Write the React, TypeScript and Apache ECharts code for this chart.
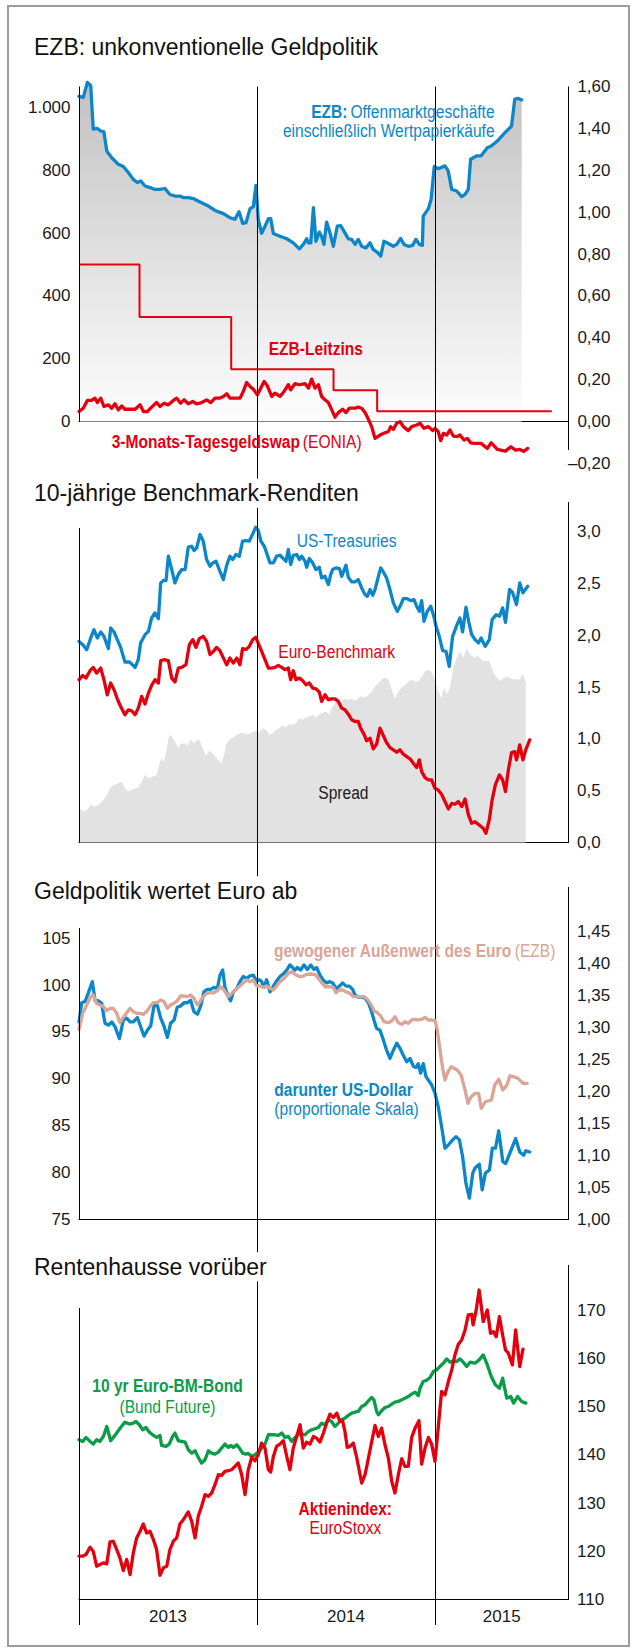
import React, { useEffect, useRef } from "react";
import * as echarts from "echarts";

// ---------- time axis: years since 1 Jan 2013 ----------
const X_MIN = 0;
const X_MAX = 2.75;
const yearBoundaries = [1, 2];
const yearTicks = [0, 1, 2];
const yearLabelPos = [0.5, 1.5, 2.375];
const firstYear = 2013;

// ---------- Panel 1: EZB ----------
const ezbOperations: [number, number][] = [
  [0,1035],[.024,1032],[.047,1080],[.066,1069],[.080,931],[.103,933],[.122,925],[.140,922],[.156,861],[.184,840],[.221,819],[.249,812],[.277,793],[.305,771],[.328,761],[.347,766],[.371,750],[.399,745],[.427,739],[.455,739],[.483,742],[.511,723],[.539,718],[.567,718],[.586,713],[.614,713],[.642,710],[.680,699],[.727,686],[.764,672],[.811,662],[.848,649],[.876,644],[.899,668],[.920,631],[.938,633],[.961,678],[.979,684],[.994,752],[1.007,644],[1.026,599],[1.045,622],[1.064,646],[1.077,646],[1.092,599],[1.129,590],[1.167,582],[1.204,569],[1.238,550],[1.260,564],[1.279,582],[1.289,569],[1.302,569],[1.317,681],[1.331,574],[1.350,603],[1.363,590],[1.376,564],[1.391,635],[1.410,601],[1.429,558],[1.451,622],[1.470,624],[1.494,601],[1.513,582],[1.532,580],[1.551,564],[1.569,580],[1.588,558],[1.612,553],[1.635,569],[1.653,548],[1.676,539],[1.695,527],[1.713,574],[1.738,567],[1.766,558],[1.785,564],[1.807,583],[1.826,564],[1.850,558],[1.874,561],[1.893,580],[1.912,564],[1.929,561],[1.934,654],[1.963,678],[1.978,707],[1.996,812],[2.018,805],[2.056,814],[2.074,798],[2.094,739],[2.122,734],[2.150,716],[2.169,723],[2.187,739],[2.200,835],[2.236,846],[2.259,846],[2.294,872],[2.316,877],[2.350,893],[2.385,915],[2.430,941],[2.448,1026],[2.464,1029],[2.487,1024]
];
const eoniaSwap: [number, number][] = [
  [0,.048],[.024,.064],[.047,.101],[.071,.101],[.090,.112],[.103,.091],[.122,.112],[.140,.072],[.165,.080],[.184,.064],[.202,.085],[.221,.056],[.240,.075],[.258,.059],[.287,.059],[.315,.059],[.343,.080],[.362,.048],[.384,.048],[.408,.069],[.436,.091],[.455,.072],[.478,.088],[.502,.080],[.530,.101],[.549,.112],[.571,.088],[.590,.104],[.614,.085],[.639,.096],[.661,.085],[.689,.091],[.717,.104],[.740,.091],[.764,.112],[.789,.112],[.811,.120],[.830,.133],[.848,.112],[.876,.112],[.905,.112],[.923,.144],[.942,.187],[.964,.165],[.979,.155],[1.002,.128],[1.017,.152],[1.040,.192],[1.058,.171],[1.083,.120],[1.101,.136],[1.129,.120],[1.152,.144],[1.176,.176],[1.189,.152],[1.213,.181],[1.238,.176],[1.270,.181],[1.289,.160],[1.307,.203],[1.326,.160],[1.345,.176],[1.363,.120],[1.382,.104],[1.401,.091],[1.420,.056],[1.438,.021],[1.457,.043],[1.481,.059],[1.500,.043],[1.519,.064],[1.551,.064],[1.569,.069],[1.588,.064],[1.607,.043],[1.626,.011],[1.644,-.024],[1.663,-.080],[1.691,-.064],[1.719,-.053],[1.738,-.048],[1.751,-.024],[1.766,-.037],[1.785,-.008],[1.804,.000],[1.822,-.024],[1.850,-.043],[1.869,-.024],[1.897,-.016],[1.916,-.008],[1.938,-.032],[1.963,-.024],[1.987,-.043],[2.000,-.032],[2.018,-.048],[2.032,-.091],[2.047,-.056],[2.066,-.064],[2.084,-.040],[2.103,-.069],[2.125,-.072],[2.140,-.064],[2.163,-.088],[2.182,-.080],[2.200,-.101],[2.225,-.104],[2.259,-.104],[2.294,-.128],[2.316,-.101],[2.350,-.133],[2.396,-.141],[2.426,-.120],[2.453,-.136],[2.476,-.133],[2.498,-.142],[2.521,-.128]
];
const rateChangeDates = [0, 0.34, 0.855, 1.43, 1.675];
const rateLevels = [0.75, 0.5, 0.25, 0.15, 0.05];
const rateEnd = 2.656;
const p1LeftTicks = [0, 200, 400, 600, 800, 1000];

// ---------- Panel 2: 10-year yields ----------
const usTreasuries: [number, number][] = [
  [0,1.940],[.024,1.902],[.043,1.860],[.066,1.973],[.084,2.053],[.103,1.973],[.122,2.031],[.140,1.989],[.165,1.870],[.178,2.069],[.197,2.031],[.215,1.957],[.234,1.882],[.258,1.741],[.283,1.741],[.296,1.721],[.315,1.689],[.333,1.763],[.346,1.924],[.371,2.005],[.390,2.037],[.408,2.166],[.427,2.214],[.446,2.159],[.459,2.504],[.474,2.527],[.489,2.527],[.502,2.762],[.521,2.633],[.539,2.504],[.558,2.585],[.577,2.633],[.596,2.633],[.614,2.849],[.633,2.858],[.646,2.816],[.661,2.842],[.680,2.971],[.698,2.907],[.717,2.729],[.736,2.665],[.751,2.697],[.770,2.713],[.788,2.633],[.811,2.536],[.830,2.675],[.848,2.762],[.863,2.729],[.882,2.778],[.901,2.762],[.919,2.907],[.938,2.913],[.957,2.907],[.976,2.977],[.993,3.042],[1.007,3.010],[1.022,2.907],[1.041,2.858],[1.054,2.794],[1.073,2.697],[1.092,2.697],[1.110,2.762],[1.129,2.771],[1.148,2.739],[1.163,2.713],[1.176,2.826],[1.189,2.681],[1.204,2.771],[1.223,2.778],[1.238,2.729],[1.251,2.762],[1.270,2.713],[1.279,2.655],[1.294,2.739],[1.313,2.697],[1.331,2.633],[1.350,2.655],[1.363,2.552],[1.382,2.568],[1.401,2.488],[1.414,2.585],[1.425,2.633],[1.444,2.649],[1.463,2.643],[1.476,2.568],[1.500,2.675],[1.513,2.559],[1.532,2.514],[1.551,2.514],[1.569,2.536],[1.588,2.456],[1.607,2.391],[1.620,2.375],[1.635,2.440],[1.650,2.385],[1.663,2.440],[1.682,2.568],[1.695,2.649],[1.710,2.610],[1.728,2.552],[1.747,2.440],[1.766,2.311],[1.788,2.230],[1.807,2.288],[1.822,2.353],[1.841,2.353],[1.863,2.333],[1.882,2.343],[1.897,2.279],[1.912,2.230],[1.925,2.333],[1.938,2.134],[1.957,2.230],[1.976,2.279],[1.991,2.198],[2.006,2.085],[2.024,1.989],[2.043,1.850],[2.062,1.844],[2.080,1.699],[2.099,1.989],[2.122,2.095],[2.140,2.166],[2.155,2.031],[2.174,2.269],[2.189,2.134],[2.206,2.005],[2.225,1.957],[2.244,1.925],[2.259,1.973],[2.282,1.892],[2.305,1.957],[2.321,2.150],[2.344,2.198],[2.362,2.182],[2.380,2.263],[2.396,2.124],[2.419,2.440],[2.435,2.414],[2.458,2.295],[2.476,2.504],[2.494,2.408],[2.521,2.472]
];
const euroBenchmark: [number, number][] = [
  [0,1.570],[.021,1.612],[.039,1.586],[.062,1.657],[.080,1.689],[.099,1.634],[.122,1.683],[.140,1.570],[.159,1.425],[.178,1.538],[.197,1.473],[.215,1.386],[.234,1.312],[.258,1.232],[.277,1.280],[.296,1.271],[.315,1.232],[.333,1.296],[.352,1.409],[.371,1.335],[.390,1.441],[.408,1.515],[.427,1.570],[.446,1.538],[.459,1.754],[.478,1.763],[.502,1.754],[.521,1.586],[.539,1.548],[.558,1.683],[.577,1.689],[.601,1.715],[.620,1.908],[.639,1.957],[.657,1.882],[.676,1.966],[.698,1.989],[.717,1.940],[.736,1.812],[.755,1.844],[.773,1.882],[.792,1.850],[.811,1.779],[.830,1.715],[.848,1.779],[.867,1.731],[.886,1.779],[.904,1.715],[.919,1.870],[.938,1.860],[.957,1.892],[.976,1.957],[.993,1.979],[1.007,1.924],[1.026,1.844],[1.045,1.763],[1.064,1.683],[1.082,1.683],[1.101,1.689],[1.120,1.708],[1.139,1.689],[1.157,1.667],[1.176,1.683],[1.189,1.570],[1.204,1.657],[1.219,1.570],[1.238,1.586],[1.257,1.560],[1.275,1.522],[1.294,1.538],[1.313,1.490],[1.331,1.483],[1.350,1.451],[1.363,1.361],[1.382,1.425],[1.401,1.377],[1.419,1.386],[1.438,1.386],[1.457,1.361],[1.476,1.296],[1.494,1.280],[1.513,1.238],[1.532,1.184],[1.551,1.167],[1.569,1.167],[1.582,1.103],[1.601,1.045],[1.616,0.981],[1.635,1.006],[1.653,0.903],[1.672,0.949],[1.691,1.103],[1.706,1.045],[1.725,0.974],[1.747,0.916],[1.766,0.894],[1.785,0.871],[1.803,0.894],[1.822,0.852],[1.841,0.829],[1.860,0.807],[1.878,0.765],[1.897,0.723],[1.912,0.797],[1.925,0.684],[1.944,0.626],[1.963,0.604],[1.981,0.604],[2.000,0.523],[2.018,0.507],[2.037,0.465],[2.056,0.395],[2.075,0.324],[2.094,0.378],[2.112,0.369],[2.131,0.395],[2.150,0.346],[2.169,0.420],[2.187,0.272],[2.206,0.185],[2.225,0.201],[2.248,0.169],[2.271,0.137],[2.286,0.089],[2.305,0.217],[2.321,0.411],[2.339,0.556],[2.362,0.652],[2.380,0.604],[2.396,0.491],[2.412,0.700],[2.430,0.868],[2.448,0.877],[2.458,0.797],[2.476,0.942],[2.494,0.797],[2.510,0.894],[2.532,0.990]
];
const yieldSpread: [number, number][] = [
  [0,.330],[.024,.298],[.043,.314],[.066,.362],[.084,.346],[.109,.362],[.137,.411],[.156,.459],[.174,.523],[.193,.549],[.221,.572],[.240,.588],[.258,.523],[.277,.491],[.296,.507],[.315,.523],[.333,.530],[.352,.588],[.371,.652],[.390,.620],[.414,.636],[.436,.652],[.455,.781],[.464,.813],[.478,.781],[.493,.910],[.507,1.039],[.521,1.023],[.539,.974],[.558,.910],[.571,.949],[.590,.958],[.609,.936],[.627,.990],[.646,.958],[.665,.990],[.680,.981],[.695,.910],[.713,.839],[.732,.884],[.751,.862],[.770,.820],[.788,.787],[.801,.765],[.815,.845],[.826,.942],[.845,.990],[.867,1.013],[.886,1.039],[.904,1.055],[.927,1.055],[.951,1.045],[.976,1.064],[.994,1.077],[1.013,1.064],[1.032,1.103],[1.051,1.087],[1.069,1.039],[1.088,1.055],[1.107,1.087],[1.125,1.103],[1.144,1.129],[1.163,1.109],[1.182,1.142],[1.200,1.135],[1.219,1.151],[1.238,1.200],[1.257,1.184],[1.275,1.206],[1.294,1.216],[1.313,1.232],[1.331,1.206],[1.350,1.238],[1.369,1.248],[1.388,1.264],[1.406,1.232],[1.419,1.296],[1.438,1.345],[1.457,1.345],[1.476,1.367],[1.494,1.386],[1.513,1.377],[1.532,1.386],[1.551,1.367],[1.569,1.393],[1.588,1.409],[1.607,1.399],[1.626,1.425],[1.644,1.457],[1.663,1.506],[1.682,1.538],[1.700,1.570],[1.719,1.593],[1.738,1.570],[1.757,1.473],[1.775,1.386],[1.794,1.457],[1.813,1.496],[1.831,1.515],[1.850,1.554],[1.869,1.570],[1.888,1.548],[1.906,1.554],[1.925,1.593],[1.944,1.651],[1.963,1.667],[1.981,1.644],[2.000,1.570],[2.018,1.457],[2.037,1.393],[2.051,1.490],[2.066,1.432],[2.084,1.490],[2.103,1.683],[2.122,1.779],[2.140,1.844],[2.159,1.779],[2.178,1.870],[2.197,1.812],[2.225,1.779],[2.236,1.80],[2.271,1.75],[2.305,1.75],[2.333,1.62],[2.362,1.56],[2.403,1.60],[2.430,1.58],[2.473,1.57],[2.494,1.63],[2.510,1.54]
];

// ---------- Panel 3: euro exchange rate ----------
const euroTradeWeighted: [number, number][] = [
  [0,95.28],[.021,96.99],[.043,97.88],[.066,98.77],[.080,98.95],[.099,98.06],[.118,97.88],[.137,97.70],[.156,97.27],[.174,97.52],[.193,97.52],[.212,96.99],[.230,95.99],[.249,96.56],[.268,97.06],[.287,97.52],[.305,97.17],[.324,96.99],[.343,96.99],[.361,96.88],[.380,97.17],[.399,97.70],[.418,98.13],[.440,98.13],[.459,98.41],[.478,98.23],[.496,97.52],[.515,97.88],[.534,98.06],[.552,98.34],[.571,98.84],[.590,98.84],[.609,98.77],[.627,98.95],[.646,98.59],[.665,97.88],[.680,98.23],[.698,98.77],[.717,99.12],[.740,99.19],[.758,99.19],[.777,99.41],[.796,99.83],[.815,99.48],[.839,98.77],[.858,99.12],[.882,99.55],[.904,99.91],[.923,100.26],[.942,100.55],[.961,100.37],[.979,100.55],[.998,99.91],[1.017,99.91],[1.036,99.76],[1.054,99.91],[1.073,99.66],[1.092,99.48],[1.110,99.91],[1.129,100.37],[1.152,100.73],[1.176,101.26],[1.195,101.44],[1.219,101.08],[1.242,100.90],[1.260,100.97],[1.279,101.15],[1.302,101.19],[1.326,101.15],[1.345,100.73],[1.363,100.26],[1.382,99.83],[1.406,99.83],[1.429,99.76],[1.444,99.19],[1.463,99.48],[1.481,99.48],[1.500,99.30],[1.522,99.12],[1.541,98.77],[1.560,98.77],[1.579,98.77],[1.601,98.77],[1.620,98.48],[1.639,97.99],[1.657,97.27],[1.676,97.06],[1.695,96.70],[1.713,96.10],[1.738,95.99],[1.757,96.17],[1.775,96.63],[1.794,95.99],[1.813,95.81],[1.831,96.10],[1.850,95.92],[1.869,96.28],[1.888,96.35],[1.906,96.28],[1.925,96.35],[1.944,96.56],[1.963,96.28],[1.981,96.28],[2.000,96.21],[2.013,95.21],[2.028,93.07],[2.043,91.12],[2.056,89.87],[2.073,90.76],[2.091,91.29],[2.124,90.94],[2.147,90.41],[2.169,88.80],[2.185,87.38],[2.203,88.09],[2.226,88.45],[2.245,88.45],[2.260,86.85],[2.283,87.55],[2.317,87.74],[2.336,89.34],[2.358,89.95],[2.381,88.80],[2.404,89.34],[2.420,90.30],[2.442,90.22],[2.465,90.05],[2.495,89.52],[2.518,89.52]
];
const euroUsDollar: [number, number][] = [
  [0,1.308],[.015,1.338],[.034,1.340],[.052,1.353],[.075,1.371],[.090,1.342],[.109,1.341],[.127,1.337],[.146,1.306],[.165,1.303],[.184,1.308],[.202,1.301],[.227,1.282],[.249,1.311],[.268,1.314],[.287,1.308],[.305,1.308],[.328,1.315],[.346,1.301],[.365,1.286],[.384,1.295],[.403,1.302],[.421,1.333],[.440,1.334],[.459,1.314],[.478,1.301],[.496,1.284],[.515,1.306],[.534,1.311],[.552,1.331],[.571,1.333],[.590,1.338],[.609,1.338],[.627,1.342],[.646,1.324],[.665,1.320],[.684,1.333],[.702,1.355],[.721,1.359],[.740,1.359],[.758,1.362],[.777,1.360],[.792,1.381],[.807,1.389],[.820,1.362],[.839,1.347],[.852,1.341],[.867,1.355],[.886,1.360],[.904,1.371],[.923,1.379],[.942,1.376],[.961,1.380],[.979,1.381],[.998,1.372],[1.013,1.374],[1.026,1.371],[1.039,1.362],[1.054,1.374],[1.073,1.355],[1.092,1.364],[1.110,1.372],[1.129,1.379],[1.148,1.383],[1.167,1.389],[1.185,1.397],[1.200,1.393],[1.213,1.389],[1.227,1.393],[1.245,1.389],[1.264,1.397],[1.283,1.390],[1.302,1.397],[1.320,1.390],[1.335,1.393],[1.354,1.381],[1.373,1.373],[1.391,1.369],[1.410,1.371],[1.425,1.369],[1.444,1.360],[1.463,1.364],[1.481,1.369],[1.500,1.364],[1.519,1.364],[1.537,1.359],[1.551,1.350],[1.569,1.347],[1.588,1.347],[1.607,1.345],[1.626,1.338],[1.644,1.324],[1.657,1.311],[1.672,1.298],[1.691,1.295],[1.710,1.280],[1.728,1.264],[1.747,1.251],[1.766,1.264],[1.785,1.275],[1.803,1.267],[1.822,1.256],[1.841,1.246],[1.860,1.251],[1.878,1.239],[1.893,1.237],[1.906,1.243],[1.919,1.228],[1.934,1.243],[1.949,1.223],[1.963,1.217],[1.981,1.210],[2.000,1.197],[2.018,1.176],[2.037,1.145],[2.056,1.111],[2.075,1.116],[2.099,1.124],[2.118,1.129],[2.137,1.124],[2.155,1.098],[2.174,1.056],[2.193,1.033],[2.212,1.072],[2.225,1.080],[2.249,1.086],[2.265,1.046],[2.283,1.072],[2.306,1.077],[2.322,1.111],[2.340,1.111],[2.358,1.138],[2.381,1.090],[2.397,1.087],[2.420,1.103],[2.453,1.126],[2.476,1.105],[2.498,1.100],[2.510,1.107],[2.532,1.105]
];
const p3LeftTicks = [75, 80, 85, 90, 95, 100, 105];

// ---------- Panel 4: bonds vs stocks ----------
const bundFuture: [number, number][] = [
  [0,143.11],[.021,142.76],[.039,143.59],[.062,142.76],[.080,142.21],[.099,143.11],[.118,142.76],[.137,143.80],[.156,145.86],[.178,142.90],[.197,143.80],[.215,144.69],[.234,145.66],[.258,146.76],[.283,146.35],[.305,146.55],[.320,146.90],[.339,146.21],[.358,145.17],[.376,145.66],[.395,144.69],[.414,144.14],[.436,143.59],[.455,144.00],[.464,141.93],[.489,141.73],[.507,142.21],[.526,143.80],[.539,144.49],[.558,142.90],[.577,142.76],[.596,142.62],[.614,141.04],[.633,140.35],[.652,140.83],[.670,139.45],[.689,138.28],[.708,138.97],[.727,140.83],[.745,140.35],[.764,140.14],[.783,140.55],[.801,141.38],[.820,142.21],[.839,141.52],[.852,141.93],[.867,141.52],[.886,142.07],[.904,141.24],[.919,140.35],[.938,140.14],[.951,140.28],[.970,139.66],[.989,140.00],[1.007,140.55],[1.026,141.38],[1.045,142.21],[1.064,144.14],[1.082,144.14],[1.101,144.14],[1.120,144.00],[1.139,144.49],[1.157,143.59],[1.176,143.80],[1.195,142.76],[1.213,143.59],[1.232,144.14],[1.251,144.28],[1.270,144.14],[1.289,144.83],[1.307,145.17],[1.326,145.38],[1.345,145.66],[1.363,146.55],[1.382,146.21],[1.401,147.24],[1.419,146.90],[1.438,145.86],[1.457,146.55],[1.476,147.24],[1.494,147.59],[1.513,148.14],[1.532,148.62],[1.551,148.83],[1.569,148.97],[1.588,150.00],[1.607,150.35],[1.626,151.18],[1.644,151.86],[1.657,151.38],[1.672,148.97],[1.682,148.28],[1.700,149.11],[1.719,149.80],[1.738,150.00],[1.757,150.49],[1.775,150.90],[1.794,151.04],[1.813,151.38],[1.831,151.73],[1.850,152.07],[1.869,152.56],[1.888,152.97],[1.906,152.28],[1.916,153.80],[1.934,155.17],[1.953,155.45],[1.972,156.00],[1.991,157.24],[2.009,157.59],[2.028,158.28],[2.047,158.97],[2.066,159.87],[2.084,159.18],[2.103,159.45],[2.122,159.31],[2.140,159.87],[2.159,159.18],[2.178,158.28],[2.197,159.18],[2.225,158.97],[2.248,159.66],[2.271,160.69],[2.294,158.62],[2.316,156.20],[2.339,154.49],[2.362,153.80],[2.380,155.87],[2.403,151.73],[2.426,152.07],[2.441,150.70],[2.464,152.07],[2.487,151.03],[2.510,150.70]
];
const euroStoxx: [number, number][] = [
  [0,118.97],[.021,118.97],[.039,119.31],[.062,120.83],[.080,120.00],[.099,116.90],[.118,117.24],[.137,117.59],[.156,117.38],[.174,121.93],[.193,122.07],[.212,120.35],[.230,118.62],[.249,116.00],[.268,118.28],[.287,115.17],[.305,119.66],[.324,122.76],[.343,124.14],[.361,125.66],[.380,123.79],[.399,124.14],[.418,122.41],[.436,120.35],[.455,115.03],[.474,116.55],[.493,116.90],[.511,120.35],[.530,122.07],[.549,122.76],[.567,125.66],[.590,126.76],[.614,128.14],[.633,126.21],[.652,122.76],[.670,127.24],[.689,129.31],[.708,131.73],[.727,131.38],[.745,132.07],[.764,133.79],[.783,135.86],[.801,135.73],[.820,136.55],[.839,136.69],[.858,136.90],[.876,137.59],[.895,138.28],[.914,135.86],[.933,131.73],[.951,136.90],[.970,139.45],[.989,138.76],[1.007,140.00],[1.026,142.42],[1.045,141.38],[1.064,136.90],[1.077,136.42],[1.092,139.66],[1.110,141.73],[1.129,142.21],[1.148,142.90],[1.167,139.66],[1.185,136.90],[1.204,141.38],[1.223,143.80],[1.242,146.21],[1.260,141.38],[1.279,142.62],[1.298,142.21],[1.317,143.80],[1.335,143.45],[1.354,142.62],[1.373,144.49],[1.391,146.55],[1.410,148.42],[1.429,147.73],[1.448,148.62],[1.466,146.90],[1.481,147.04],[1.494,144.83],[1.507,141.52],[1.522,141.73],[1.541,142.42],[1.560,139.45],[1.588,134.14],[1.607,135.86],[1.626,139.31],[1.644,142.62],[1.663,146.07],[1.682,143.80],[1.700,145.52],[1.719,142.07],[1.738,139.31],[1.757,134.48],[1.775,132.07],[1.794,135.86],[1.813,139.17],[1.831,137.59],[1.850,137.59],[1.869,143.59],[1.888,145.52],[1.910,147.04],[1.925,138.07],[1.944,141.38],[1.963,143.59],[1.981,142.21],[2.000,138.62],[2.018,145.52],[2.037,153.11],[2.056,152.42],[2.075,155.17],[2.094,157.59],[2.112,160.69],[2.131,162.90],[2.150,163.80],[2.169,165.87],[2.187,168.97],[2.206,169.11],[2.214,166.90],[2.230,169.65],[2.248,174.14],[2.271,167.58],[2.294,170.00],[2.312,165.18],[2.328,165.51],[2.344,164.48],[2.362,168.62],[2.380,164.83],[2.396,161.73],[2.412,161.05],[2.435,158.62],[2.453,165.87],[2.476,158.27],[2.494,161.87]
];

// ---------- styling ----------
const BLUE = "#0b87c9";
const RED = "#e3000f";
const SALMON = "#d9a596";
const GREEN = "#0a9c47";
const INK = "#1a1a1a";
const SANS = '"Liberation Sans", Arial, sans-serif';
const CONDENSE = 0.82; // horizontal squeeze for condensed annotation type

// layout (px)
const L = 79;
const R = 568.5;
const GW = R - L;
const P1 = { top: 86.5, bottom: 463.5 };
const P2 = { top: 531.5, bottom: 842.5 };
const P3 = { top: 931, bottom: 1219.3 };
const P4 = { top: 1310, bottom: 1599.5 };
const BG = { top: 86.5, bottom: 1625 };

const comma = (v: number, d: number) =>
  (v < 0 ? "–" : "") + Math.abs(v).toFixed(d).replace(".", ",");

function App() {
  const ref = useRef<HTMLDivElement>(null);
  useEffect(() => {
    if (!ref.current) return;
    const chart = echarts.init(ref.current, undefined, { renderer: "svg" });

    const grid = (p: { top: number; bottom: number }) => ({
      left: L, top: p.top, width: GW, height: p.bottom - p.top, outerBoundsMode: "none",
    });
    const hiddenX = (gridIndex: number, extra: any = {}) => ({
      type: "value", gridIndex, min: X_MIN, max: X_MAX,
      axisLine: { show: true, onZero: true, lineStyle: { color: "#000", width: 1 } },
      axisTick: { show: false }, axisLabel: { show: false }, splitLine: { show: false },
      ...extra,
    });
    const labelStyle = { color: INK, fontSize: 17, fontFamily: SANS };

    const line = (data: [number, number][], xi: number, yi: number, color: string, z = 3, extra: any = {}) => ({
      type: "line", xAxisIndex: xi, yAxisIndex: yi, data, showSymbol: false, symbol: "none",
      clip: false, z, silent: true,
      lineStyle: { color, width: 3.3, join: "round", cap: "round" },
      ...extra,
    });

    const rateSteps: [number, number][] = rateChangeDates
      .map((d, i) => [d, rateLevels[i]] as [number, number])
      .concat([[rateEnd, rateLevels[rateLevels.length - 1]]]);

    const text = (x: number, y: number, t: string, align: string, rich: any) => ({
      type: "text", x, y, z: 50, silent: true, scaleX: CONDENSE, scaleY: 1,
      style: { text: t, align, verticalAlign: "middle", rich },
    });
    const rich = (color: string) => ({
      b: { fontFamily: SANS, fontSize: 19, fontWeight: "bold", fill: color },
      n: { fontFamily: SANS, fontSize: 19, fontWeight: "normal", fill: color },
    });
    const title = (y: number, t: string) => ({
      type: "text", x: 32, y, z: 100, silent: true,
      style: {
        text: t, fill: "#111", fontFamily: SANS, fontSize: 23, align: "left", verticalAlign: "middle",
        backgroundColor: "#fff", padding: [3, 4, 3, 2],
      },
    });
    const vline = (x: number, y1: number, y2: number) => ({
      type: "line", z: 60, silent: true,
      shape: { x1: x, y1, x2: x, y2 }, style: { stroke: "#000", lineWidth: 1 },
    });

    chart.setOption({
      animation: false,
      backgroundColor: "#fff",
      grid: [grid(P1), grid(P2), grid(P3), grid(P4), grid(BG)],
      xAxis: [
        hiddenX(0),
        hiddenX(1),
        hiddenX(2),
        hiddenX(3, {
          axisTick: { show: true, customValues: yearTicks, length: 25.5, inside: false, lineStyle: { color: "#000", width: 1 } },
          axisLabel: {
            show: true, customValues: yearLabelPos, margin: 8, ...labelStyle,
            formatter: (v: number) => String(firstYear + Math.floor(v)),
          },
        }),
        { type: "value", gridIndex: 4, min: X_MIN, max: X_MAX, show: false },
      ],
      yAxis: [
        {
          type: "value", gridIndex: 0, position: "left", min: -133.333, max: 1066.667,
          axisLine: { show: false }, axisTick: { show: false }, splitLine: { show: false },
          axisLabel: {
            customValues: p1LeftTicks, margin: 8.5, ...labelStyle,
            formatter: (v: number) => (v >= 1000 ? Math.floor(v / 1000) + "." + String(v % 1000).padStart(3, "0") : String(v)),
          },
        },
        {
          type: "value", gridIndex: 0, position: "right", min: -0.2, max: 1.6, interval: 0.2,
          axisLine: { show: false }, axisTick: { show: false }, splitLine: { show: false },
          axisLabel: { margin: 42, align: "right", ...labelStyle, formatter: (v: number) => comma(v, 2) },
        },
        {
          type: "value", gridIndex: 1, position: "right", min: 0, max: 3, interval: 0.5,
          axisLine: { show: false }, axisTick: { show: false }, splitLine: { show: false },
          axisLabel: { margin: 8.5, ...labelStyle, formatter: (v: number) => comma(v, 1) },
        },
        {
          type: "value", gridIndex: 2, position: "left", min: 75, max: 105.78,
          axisLine: { show: false }, axisTick: { show: false }, splitLine: { show: false },
          axisLabel: { customValues: p3LeftTicks, margin: 8.5, ...labelStyle },
        },
        {
          type: "value", gridIndex: 2, position: "right", min: 1, max: 1.45, interval: 0.05,
          axisLine: { show: false }, axisTick: { show: false }, splitLine: { show: false },
          axisLabel: { margin: 8.5, ...labelStyle, formatter: (v: number) => comma(v, 2) },
        },
        {
          type: "value", gridIndex: 3, position: "right", min: 110, max: 170, interval: 10,
          axisLine: { show: false }, axisTick: { show: false }, splitLine: { show: false },
          axisLabel: { margin: 8.5, ...labelStyle },
        },
        { type: "value", gridIndex: 4, min: 0, max: 1, show: false },
      ],
      series: [
        {
          type: "line", xAxisIndex: 4, yAxisIndex: 6, data: [], z: 2, silent: true,
          markLine: {
            silent: true, symbol: ["none", "none"], label: { show: false },
            lineStyle: { color: "#000", width: 1, type: "solid" },
            emphasis: { disabled: true },
            data: yearBoundaries.map((v) => ({ xAxis: v })),
          },
        },
        // Panel 1
        line(ezbOperations, 0, 0, "#c8c8c8", 1, {
          lineStyle: { width: 0, color: "#c8c8c8" },
          areaStyle: {
            opacity: 1,
            color: new echarts.graphic.LinearGradient(0, 0, 0, 1, [
              { offset: 0, color: "#c2c2c2" },
              { offset: 1, color: "#fdfdfd" },
            ]),
          },
        }),
        line(rateSteps, 0, 1, RED, 3, { step: "end", lineStyle: { color: RED, width: 2 } }),
        line(eoniaSwap, 0, 1, RED, 4),
        line(ezbOperations, 0, 0, BLUE, 4),
        // Panel 2
        line(yieldSpread, 1, 2, "#e2e2e2", 1, {
          lineStyle: { width: 0, color: "#e2e2e2" },
          areaStyle: { color: "#e2e2e2", opacity: 1 },
        }),
        line(usTreasuries, 1, 2, BLUE, 4),
        line(euroBenchmark, 1, 2, RED, 4),
        // Panel 3
        line(euroUsDollar, 2, 4, BLUE, 4),
        line(euroTradeWeighted, 2, 3, SALMON, 5),
        // Panel 4
        line(bundFuture, 3, 5, GREEN, 4),
        line(euroStoxx, 3, 5, RED, 5),
      ],
      graphic: [
        {
          type: "rect", z: 0, silent: true,
          shape: { x: 8, y: 6, width: 621, height: 1640 },
          style: { fill: "none", stroke: "#9c9c9c", lineWidth: 2 },
        },
        vline(L + 0.5, P1.top, 421.7),
        vline(R, P1.top, 450),
        vline(L + 0.5, 528, P2.bottom),
        vline(R, 502, P2.bottom),
        vline(L + 0.5, 928, P3.bottom),
        vline(R, 887, P3.bottom),
        vline(L + 0.5, 1308, P4.bottom),
        vline(R, 1265, P4.bottom),
        title(46.7, "EZB: unkonventionelle Geldpolitik"),
        title(493.3, "10-jährige Benchmark-Renditen"),
        title(890.7, "Geldpolitik wertet Euro ab"),
        title(1266.7, "Rentenhausse vorüber"),
        text(494.6, 111, "{b|EZB:} {n|Offenmarktgeschäfte}", "right", rich(BLUE)),
        text(494.6, 130.5, "{n|einschließlich Wertpapierkäufe}", "right", rich(BLUE)),
        text(315.8, 348.3, "{b|EZB-Leitzins}", "center", rich(RED)),
        text(111.7, 441, "{b|3-Monats-Tagesgeldswap} {n|(EONIA)}", "left", rich(RED)),
        text(296.7, 540, "{n|US-Treasuries}", "left", rich(BLUE)),
        text(278.3, 651, "{n|Euro-Benchmark}", "left", rich(RED)),
        text(318.3, 792.7, "{n|Spread}", "left", rich(INK)),
        text(273.9, 950.5, "{b|gewogener Außenwert des Euro} {n|(EZB)}", "left", rich(SALMON)),
        text(274.3, 1089, "{b|darunter US-Dollar}", "left", rich(BLUE)),
        text(274.3, 1108.5, "{n|(proportionale Skala)}", "left", rich(BLUE)),
        text(167.5, 1385.5, "{b|10 yr Euro-BM-Bond}", "center", rich(GREEN)),
        text(167.5, 1406, "{n|(Bund Future)}", "center", rich(GREEN)),
        text(345.3, 1508.5, "{b|Aktienindex:}", "center", rich(RED)),
        text(345.3, 1527.5, "{n|EuroStoxx}", "center", rich(RED)),
      ],
    });
    return () => chart.dispose();
  }, []);

  return (
    <div
      ref={ref}
      style={{ position: "absolute", left: 0, top: 0, width: 632, height: 1651, background: "#fff" }}
    />
  );
}

export default App;
